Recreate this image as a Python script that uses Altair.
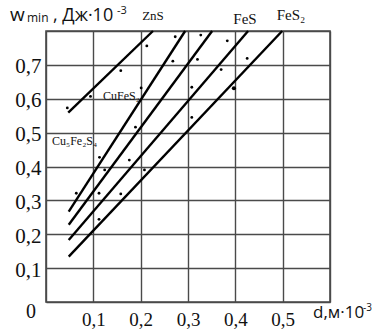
import altair as alt
import pandas as pd

# Fitted lines (start/end points, data units)
line_id = ["A", "A", "B", "B", "C", "C", "D", "D", "E", "E"]
line_x = [0.047, 0.226, 0.048, 0.294, 0.048, 0.351, 0.048, 0.427, 0.048, 0.499]
line_y = [0.559, 0.8, 0.267, 0.8, 0.228, 0.8, 0.183, 0.8, 0.134, 0.8]

# Experimental points
pt_x = [0.045, 0.094, 0.158, 0.213, 0.273, 0.268, 0.201, 0.189, 0.113, 0.124,
        0.176, 0.208, 0.064, 0.112, 0.158, 0.112, 0.327, 0.383, 0.320, 0.370,
        0.425, 0.308, 0.397, 0.308]
pt_y = [0.573, 0.607, 0.683, 0.756, 0.783, 0.711, 0.632, 0.516, 0.427, 0.390,
        0.419, 0.390, 0.321, 0.321, 0.319, 0.244, 0.788, 0.771, 0.716, 0.686,
        0.719, 0.634, 0.631, 0.545]
pt_size = [8] * 22 + [18, 8]

x_ticks = [0, 0.1, 0.2, 0.3, 0.4, 0.5, 0.6]
y_ticks = [0, 0.1, 0.2, 0.3, 0.4, 0.5, 0.6, 0.7, 0.8]

lines_df = pd.DataFrame({"id": line_id, "x": line_x, "y": line_y})
pts_df = pd.DataFrame({"x": pt_x, "y": pt_y, "s": pt_size})

GRID = "#4a4a4a"
xsc = alt.Scale(domain=[0, 0.6], nice=False, zero=False)
ysc = alt.Scale(domain=[0, 0.8], nice=False, zero=False)

xax = alt.Axis(values=x_ticks, grid=True, gridColor=GRID, gridWidth=1.4, gridOpacity=1,
               domain=False, ticks=False, title=None, labelOverlap=False,
               labelExpr="(datum.value > 0.05 && datum.value < 0.55) ? replace(format(datum.value, '.1f'), '.', ',') : ''",
               labelFont="Liberation Serif", labelFontSize=19, labelColor="#111",
               labelPadding=8, labelFlush=False)
yax = alt.Axis(values=y_ticks, grid=True, gridColor=GRID, gridWidth=1.4, gridOpacity=1,
               domain=False, ticks=False, title=None, labelOverlap=False,
               labelExpr="(datum.value > 0.05 && datum.value < 0.75) ? replace(format(datum.value, '.1f'), '.', ',') : ''",
               labelFont="Liberation Serif", labelFontSize=21, labelColor="#111",
               labelPadding=5, labelFlush=False, labelAlign="right", labelOffset=2)

lines = alt.Chart(lines_df).mark_line(color="black", strokeWidth=2.4, clip=False).encode(
    x=alt.X("x:Q", scale=xsc, axis=xax),
    y=alt.Y("y:Q", scale=ysc, axis=yax),
    detail="id:N",
)
pts = alt.Chart(pts_df).mark_circle(color="black", opacity=1).encode(
    x=alt.X("x:Q", scale=xsc, axis=xax),
    y=alt.Y("y:Q", scale=ysc, axis=yax),
    size=alt.Size("s:Q", scale=None, legend=None),
)

# text annotations: (text, x px, y px, font, size, align, baseline)
ann_text = ["w", "min", ", Дж·10", "-3", "ZnS", "FeS", "FeS₂", "CuFeS₂", "Cu₅Fe₂S₄",
            "0", "d,м·10", "-3"]
ann_x = [-36, -19, 7, 71, 107, 199, 245, 57, 6, -15, 267, 317]
ann_y = [-10, -9, -10, -17, -15, -12, -16, 65, 110, 281, 287, 280]
ann_font = ["Open Sans", "Open Sans", "Open Sans", "Open Sans", "Liberation Serif",
            "Liberation Serif", "Liberation Serif", "Liberation Serif", "Liberation Serif",
            "Liberation Serif", "Open Sans", "Open Sans"]
ann_size = [19, 12, 18, 11, 13, 15, 15, 12, 12, 20, 17, 10]
ann_align = ["left", "left", "left", "left", "center", "center", "center", "left", "left",
             "center", "left", "left"]
ann_base = ["alphabetic", "alphabetic", "alphabetic", "alphabetic", "middle", "middle",
            "middle", "middle", "middle", "middle", "alphabetic", "alphabetic"]

layers = [lines, pts]
for t, x, y, f, s, a, b in zip(ann_text, ann_x, ann_y, ann_font, ann_size, ann_align, ann_base):
    layers.append(
        alt.Chart(pd.DataFrame({"t": [t]})).mark_text(
            font=f, fontSize=s, align=a, baseline=b, color="#111"
        ).encode(x=alt.value(x), y=alt.value(y), text="t:N")
    )

chart = alt.layer(*layers).properties(
    width=284, height=271,
    autosize=alt.AutoSizeParams(type="none"),
    padding={"left": 46, "top": 31, "right": 57, "bottom": 27},
    background="white",
).configure_view(stroke=GRID, strokeWidth=1.6).configure_axis(labelOverlap=False)

chart.save("out.html", embed_options={"renderer": "svg", "actions": False})
